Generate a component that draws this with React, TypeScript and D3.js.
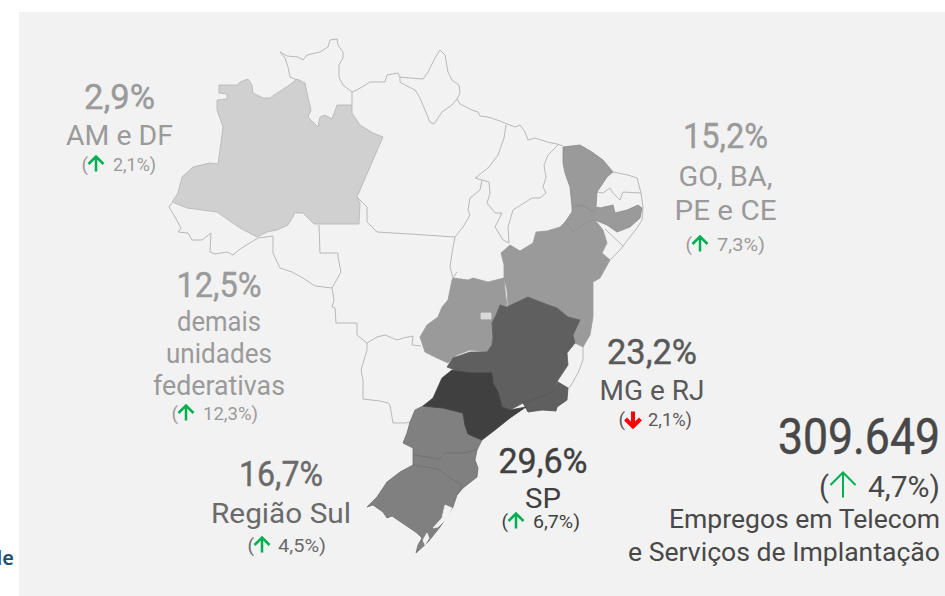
import React from 'react';
import * as d3 from 'd3';

type Pt = [number, number];

// Outlines, in map grid units (see gridX / gridY below)
const amazonas: Pt[] = [[4.9,4.5],[6.8,4.5],[7,4.2],[7.8,3.9],[8.2,4.5],[8.3,5.3],[9.3,5.8],[10,5.8],[10.7,5.3],[11.8,4.6],[12.7,3.9],[13.5,4.3],[13.7,5.3],[14.1,7],[13.8,7.7],[14.8,8.7],[15,7.7],[15.5,7.5],[16.2,7.9],[16.7,6.5],[18.2,6.5],[18.2,7.3],[19,8.5],[20.3,9.3],[21.3,9.7],[18.7,15.7],[19,16.3],[18.9,18.4],[14.4,18.4],[13.3,17.3],[12.5,17.3],[11.8,18.5],[10.7,19],[9.7,19.2],[8.7,19.7],[7,18.8],[4.7,17.2],[1.7,16.8],[0.2,16.2],[0.8,15.3],[1.2,13.7],[2.3,12.7],[4,12.3],[4.8,12.4],[5.3,8.7],[4.7,7],[4.7,6],[5.7,5.9],[5.7,5.4],[4.9,5.3]];
const distritoFederal: Pt[] = [[31.1,27.3],[32.1,27.3],[32.1,27.9],[31.1,27.9]];
const ceara: Pt[] = [[39.3,10.7],[41,10.5],[42.2,11.2],[43.3,12],[44.3,13.2],[43.7,13.7],[42.7,15.2],[42.6,16.7],[42.3,17.2],[41.2,16.5],[40.2,16.7],[40,14.7],[39.5,13.3],[39.3,12.3]];
const pernambuco: Pt[] = [[40.2,16.7],[41.2,16.5],[42.3,17.2],[42.7,16.7],[43,16.8],[44.3,16.5],[44.5,17.3],[45.7,17],[46.8,16.5],[47.2,16.8],[47,17.8],[46,18.7],[44.7,19.2],[43.7,18.5],[42.5,18],[41.7,18.2],[40.3,19.2],[40,18.7],[39.5,18.2],[40.2,17.2]];
const bahia: Pt[] = [[33.1,21.3],[34,20.5],[35,21.1],[36.3,20.3],[36.6,19.2],[37.7,19.1],[39,18.7],[39.5,18.2],[40,18.7],[40.3,19.2],[41.7,18.2],[42.5,18],[43.3,19],[43.7,20.3],[43.2,21.3],[44,22],[43,23.8],[42.3,24.2],[42.3,27.7],[42,29.5],[41.3,30.7],[40.5,30.3],[40.3,29.5],[41,28],[39.8,27.7],[38.7,26.8],[37.3,26.3],[35.8,25.7],[33.8,26.7],[33.7,25],[33.4,23.8],[33.4,22.5]];
const goias: Pt[] = [[28.3,23.8],[29.8,24],[30.3,23.8],[31.8,24.2],[33.4,23.8],[33.5,25],[33.7,26.6],[33,26.5],[32.7,27.3],[32.2,28.3],[32.3,29.7],[32.2,30.5],[31.7,31.2],[30,31],[28.7,31.5],[27.8,32.3],[26.7,31.8],[25.5,31.2],[25,29.7],[25.7,28.5],[26.8,27.7],[27.2,26.7],[27.8,26],[28.2,24]];
const minasGerais: Pt[] = [[33,26.5],[33.7,26.7],[35.8,25.7],[37.3,26.3],[38.7,26.8],[39.8,27.7],[41,28],[40.3,29.5],[40.5,30.3],[39.7,31.3],[39.8,32.5],[38.8,34],[38.3,35.2],[36.8,35.8],[35.3,36.3],[34,37],[33.2,36.7],[32.8,35.2],[32.3,34.3],[32.2,33.3],[30,33.3],[28.5,33],[27.7,32.7],[28.3,31.8],[30,31.2],[31.7,31.2],[32.2,30.5],[32.3,29.7],[32.2,28.3],[32.7,27.3]];
const rioDeJaneiro: Pt[] = [[38.3,35.2],[38.8,34.2],[39.8,34.8],[39.7,36],[38.7,36.7],[38.6,37.1],[37.2,37],[35.8,37.2],[35.3,36.3],[36.8,35.8]];
const saoPaulo: Pt[] = [[28.2,33],[30,33.3],[32.2,33.3],[32.3,34.3],[32.8,35.2],[33.2,36.7],[34,37],[35.6,36.7],[34,37.8],[32.5,39],[31.2,40],[29.8,39.4],[29.5,38.5],[29.3,37.3],[27.3,36.8],[25.3,36.6],[26.3,35.8],[27.2,33.8]];
const parana: Pt[] = [[25.3,36.6],[24.5,37],[24,38.2],[23.7,39.3],[23.3,40.3],[24.3,40.8],[24.3,41.5],[27,41.9],[27.5,41.3],[29.3,41.3],[30.7,41],[31.2,40],[29.8,39.4],[29.5,38.5],[29.3,37.3],[27.3,36.8]];
const santaCatarina: Pt[] = [[24.3,41.5],[24.3,42.5],[24.8,42.6],[26.7,42.9],[28,43.8],[29.2,44.5],[28.7,45.5],[29.3,44.8],[30.7,43.7],[30.8,42.8],[30.5,42],[30.7,41],[29.3,41.3],[27.5,41.3],[27,41.9]];
const rioGrandeDoSul: Pt[] = [[24.3,42.5],[23,43.2],[21.7,44.2],[20.7,45.7],[19.7,46.7],[20.3,46.5],[21.3,47.2],[21.7,47.8],[22.2,47.6],[24.7,49.3],[25.2,49.8],[24.8,50.5],[24.6,51.3],[25.8,50.2],[27,48.7],[28.3,46.7],[28.7,45.5],[29.2,44.5],[28,43.8],[26.7,42.9],[24.8,42.6]];
const lagoaDosPatos: Pt[] = [[26.3,48.8],[27.2,47.8],[27.5,46.5],[28.2,46.8],[27.7,47.8],[26.8,48.7]];
const lagoaMirim: Pt[] = [[25.3,50],[25.7,49.3],[25.9,49.8],[25.5,50.5]];

// Borders of the states that carry no shade
const unshadedBorders: Pt[][] = [
  [[12.7,4],[12,3.7],[11.8,2.7],[11.5,1.8],[11,1.2],[11.7,1.6],[12.8,1.7],[13.3,2],[13.7,1.5],[15,1.2],[15.8,0.7],[16,0],[16.7,-0.1],[16.8,0.5],[17.3,1.2],[17.3,1.8],[16.9,2.5],[16.9,3.7],[17.3,4.5],[18.2,5.2],[18.2,6.5]],
  [[18.2,5.2],[18.7,5],[20,4.2],[21.5,4.2],[21.7,3.5],[22.8,3.3],[23,3.7]],
  [[23,3.7],[24,3.8],[25.3,3.9],[25.8,3.2],[26.5,1.8],[27,1],[27.5,1.5],[27.8,3.2],[28.2,4],[28.9,4.5],[29,5.3],[28.7,5.9],[28.2,6.5],[27.2,7.2],[26.8,7.8],[26.4,8.4],[26,8.2],[25.5,7],[25,5.8],[24.5,5],[23.5,4.5],[23,4.2],[23,3.7]],
  [[28.7,5.9],[29,6.4],[30.2,7],[30.8,7.2],[31,7.6],[31.8,7.7],[33,8.1],[33.7,8.4],[34.5,8.7],[35,8.5],[35.5,9.2],[35.8,10],[36.5,9.8],[37.7,10.2],[38.7,10.4],[39.3,10.6]],
  [[33.6,8.5],[33.4,9.8],[32.8,11.5],[31.9,12.7],[30.8,13.6],[30.5,13.8],[31.2,14],[31,15],[30,15.8],[29.8,17],[30,17.5],[29.3,18.7],[28.5,19.7],[28.2,21.3],[28,22.7],[28.3,23.8],[28.7,23.2]],
  [[31.2,14],[31.9,14.2],[32,15.3],[31.7,16.3],[32.5,17.3],[33.2,17.3],[32.5,18.7],[33.3,20],[33.9,20.3]],
  [[38.8,10.5],[37.8,11.5],[37.4,12.5],[37.6,13.7],[37.3,14.7],[37.6,15.3],[37,15.8],[36.2,15.8],[34.3,17],[33.8,18.7],[33.9,20.3]],
  [[18.7,15.7],[19.7,16.7],[19.7,18.2],[20.7,19.2],[24,19.4],[28.5,19.7]],
  [[0.2,16.3],[-0.1,16.7],[0.5,17.7],[1.1,18.8],[0.8,19.2],[1.8,19.3],[2.2,20],[3.2,20],[4.1,19.3],[4,21.2],[4.5,21.4],[5.7,21.2],[6.3,21.5],[7,20.9],[8.8,19.8]],
  [[8.8,19.8],[10.3,19.6],[10.3,21.3],[11,22.8],[12.2,23.2],[13.3,23.8],[14.5,24.6],[16.2,24.8]],
  [[14.9,18.5],[15,21.3],[16.8,21.3],[16.8,21.7],[17.1,23.2],[16.2,24.8],[16.4,26],[16.2,26.7],[16.5,26.8],[16.6,28.3],[18.7,28.3],[18.7,29.5],[19.7,30.3]],
  [[19.7,30.3],[20.7,29.7],[21.5,29.5],[22.7,30],[23.3,29.8],[24.3,29.6],[24.2,30.5],[25.1,30.6]],
  [[19.7,30.3],[19.7,31],[19.1,33],[19.3,34],[19.3,35.9],[21,36.1],[21.8,36.3],[22,36.5],[22.3,38.3],[23.5,38.3],[24,38.2]],
  [[44.3,13.2],[45.8,13.5],[46.7,13.8],[47.1,15.3],[47.3,16.7],[47.2,18],[46.7,18.8],[46,19.7],[45,21],[44,22]],
  [[42.7,15.2],[43.3,15.3],[44,14.8],[44.3,15.3],[45,16],[45.3,15.2],[47.1,15.3]],
  [[43.5,18.9],[45.3,20.6]],
  [[41.3,30.7],[41.3,32],[40.8,33.3],[40,34.7],[39.8,34.8]],
];

const shades = { amazonas: '#d0d0d0', distrito: '#dadada', nordeste: '#9a9a9a', sudeste: '#5f5f5f', saoPaulo: '#404040', sul: '#808080' };

const shares = ['2,9%', '15,2%', '12,5%', '23,2%', '16,7%', '29,6%'];
const regionNames = [['AM e DF'], ['GO, BA,', 'PE e CE'], ['demais', 'unidades', 'federativas'], ['MG e RJ'], ['Região Sul'], ['SP']];
const changes = ['2,1%', '7,3%', '12,3%', '2,1%', '4,5%', '6,7%'];
const directions = ['up', 'up', 'up', 'down', 'up', 'up'];
const labelColors = ['#9a9a9a', '#9a9a9a', '#9a9a9a', '#595959', '#6a6a6a', '#404040'];

const total = '309.649';
const totalChange = '4,7%)';
const totalLines = ['Empregos em Telecom', 'e Serviços de Implantação'];

// widths are what the narrower font of the original takes up
const labelLayout = [
  { cx: 119.5, shareY: 109, shareW: 71, nameY: [145], nameW: [107], changeY: 171, arrowX: 96, valueX: 113, valueW: 43 },
  { cx: 725.5, shareY: 148, shareW: 85, nameY: [186, 220], nameW: [94, 102], changeY: 251, arrowX: 700, valueX: 717, valueW: 48 },
  { cx: 219, shareY: 297, shareW: 85, nameY: [331, 363, 395], nameW: [84, 106, 132], changeY: 420, arrowX: 186, valueX: 203, valueW: 55 },
  { cx: 652, shareY: 364, shareW: 90, nameY: [400], nameW: [105], changeY: 426, arrowX: 633, valueX: 648, valueW: 44 },
  { cx: 281, shareY: 486, shareW: 84, nameY: [523], nameW: [140], changeY: 552, arrowX: 262, valueX: 278, valueW: 48 },
  { cx: 543, shareY: 473, shareW: 89, nameY: [508], nameW: [36], changeY: 528, arrowX: 516, valueX: 533, valueW: 47 },
];

const fontFamily = 'Roboto, sans-serif';

const gridX = d3.scaleLinear().domain([0, 47.5]).range([170, 645]);
const gridY = d3.scaleLinear().domain([0, 51.3]).range([40, 553]);
const outline = d3.line<Pt>().x(d => gridX(d[0])).y(d => gridY(d[1]));
const closed = (pts: Pt[]) => `${outline(pts)}Z`;

const Arrow = ({ x, y, size, dir, color, width }: { x: number; y: number; size: number; dir: string; color: string; width: number }) => {
  // y is the middle of the arrow
  const s = dir === 'up' ? 1 : -1;
  const h = size / 2;
  const p = d3.path();
  p.moveTo(x, y + s * h);
  p.lineTo(x, y - s * h);
  p.moveTo(x - h, y);
  p.lineTo(x, y - s * h);
  p.lineTo(x + h, y);
  return <path d={p.toString()} fill="none" stroke={color} strokeWidth={width} />;
};

export default function App() {
  const region = (pts: Pt[], fill: string, stroke: string, key: string) => (
    <path key={key} d={closed(pts)} fill={fill} stroke={stroke} strokeWidth={0.8} strokeLinejoin="round" />
  );

  return (
    <svg width={945} height={596} style={{ position: 'absolute', left: 0, top: 0, background: '#fff', fontFamily }}>
      <rect x={19} y={12} width={926} height={584} fill="#f2f2f2" />
      <text x={14} y={565} textAnchor="end" fontSize={20} fontWeight={600} fontFamily="Noto Sans, sans-serif" fill="#1f4e6e">de</text>

      <g fill="none" stroke="#b8b8b8" strokeWidth={1}>
        {unshadedBorders.map((b, i) => <path key={i} d={outline(b) ?? ''} />)}
      </g>

      {region(amazonas, shades.amazonas, '#b4b4b4', 'am')}
      {region(goias, shades.nordeste, shades.nordeste, 'go')}
      {region(bahia, shades.nordeste, shades.nordeste, 'ba')}
      {region(ceara, shades.nordeste, '#8c8c8c', 'ce')}
      {region(pernambuco, shades.nordeste, '#8c8c8c', 'pe')}
      {region(distritoFederal, shades.distrito, shades.distrito, 'df')}
      {region(minasGerais, shades.sudeste, shades.sudeste, 'mg')}
      {region(rioDeJaneiro, shades.sudeste, '#525252', 'rj')}
      {region(parana, shades.sul, '#6e6e6e', 'pr')}
      {region(santaCatarina, shades.sul, '#6e6e6e', 'sc')}
      {region(rioGrandeDoSul, shades.sul, '#6e6e6e', 'rs')}
      {region(saoPaulo, shades.saoPaulo, shades.saoPaulo, 'sp')}
      {region(lagoaDosPatos, '#f2f2f2', '#f2f2f2', 'patos')}
      {region(lagoaMirim, '#f2f2f2', '#f2f2f2', 'mirim')}

      {shares.map((share, i) => {
        const l = labelLayout[i];
        const color = labelColors[i];
        const dir = directions[i];
        return (
          <g key={share} fill={color}>
            <text x={l.cx} y={l.shareY} textAnchor="middle" fontSize={35} textLength={l.shareW} lengthAdjust="spacingAndGlyphs" stroke={color} strokeWidth={0.4}>{share}</text>
            {regionNames[i].map((name, j) => (
              <text key={name} x={l.cx} y={l.nameY[j]} textAnchor="middle" fontSize={27} textLength={l.nameW[j]} lengthAdjust="spacingAndGlyphs">{name}</text>
            ))}
            <text x={l.arrowX - 8} y={l.changeY} textAnchor="end" fontSize={19}>(</text>
            <Arrow x={l.arrowX} y={l.changeY - 7} size={15} dir={dir} color={dir === 'up' ? '#00b050' : '#ff0000'} width={dir === 'up' ? 2.5 : 4} />
            <text x={l.valueX} y={l.changeY} fontSize={18} textLength={l.valueW} lengthAdjust="spacingAndGlyphs">{changes[i]})</text>
          </g>
        );
      })}

      <g fill="#484848" textAnchor="end">
        <text x={940} y={454} fontSize={50} textLength={162} lengthAdjust="spacingAndGlyphs" stroke="#484848" strokeWidth={0.5}>{total}</text>
        <text x={829} y={497} fontSize={29}>(</text>
        <Arrow x={843} y={485} size={25} dir="up" color="#00b050" width={2} />
        <text x={940} y={497} fontSize={29} textLength={72} lengthAdjust="spacingAndGlyphs">{totalChange}</text>
        {totalLines.map((line, i) => (
          <text key={line} x={940} y={528 + i * 33} fontSize={25} textLength={i === 0 ? 271 : 312} lengthAdjust="spacingAndGlyphs">{line}</text>
        ))}
      </g>
    </svg>
  );
}
